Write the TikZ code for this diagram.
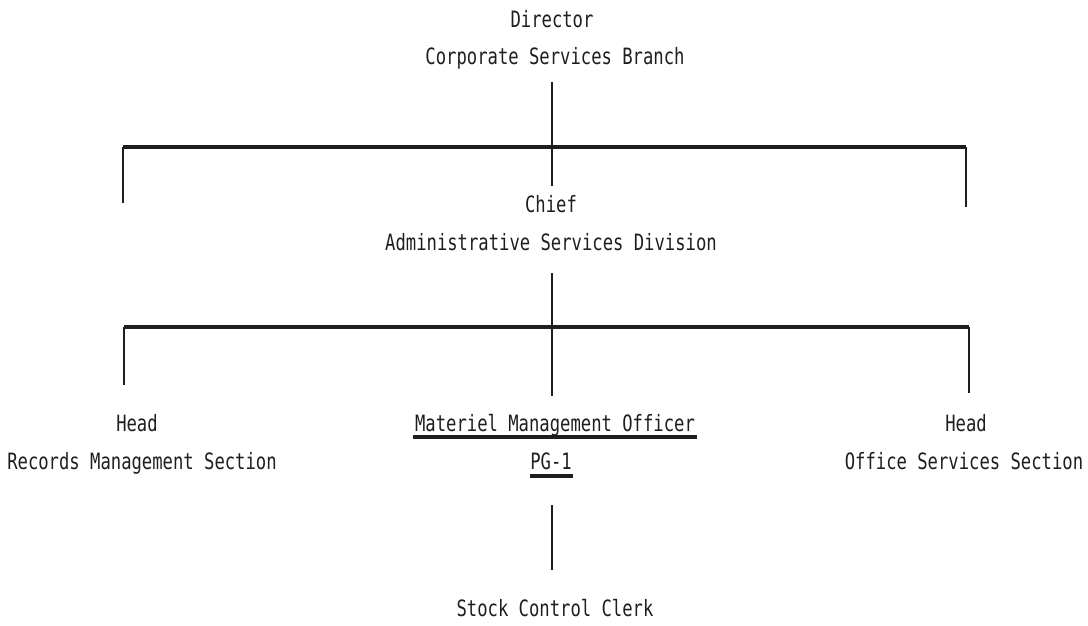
\documentclass[tikz,border=0pt]{standalone}
\usepackage{fontspec}
\newfontfamily\tw[FakeStretch=0.765]{DejaVu Sans Mono}
\definecolor{ink}{HTML}{1E1E1E}
\begin{document}
\begin{tikzpicture}[x=1pt,y=-1pt,
  lbl/.style={font=\tw\fontsize{22.5}{26}\selectfont, text=ink, inner sep=0pt, anchor=base},
  conn/.style={draw=ink, line width=1.8pt},
  bus/.style={draw=ink, line width=3.5pt},
  uline/.style={draw=ink, line width=3.5pt}]
\useasboundingbox (0,0) rectangle (1088,626);
% texts
\node[lbl] (dir) at (552,28) {Director};
\node[lbl] (corp) at (555,65) {Corporate Services Branch};
\node[lbl] (chief) at (551,212) {Chief};
\node[lbl] (adm) at (551,250) {Administrative Services Division};
\node[lbl] (headl) at (137,431) {Head};
\node[lbl] (rec) at (142,469) {Records Management Section};
\node[lbl] (mmo) at (555,431) {Materiel Management Officer};
\node[lbl] (pg) at (551,469) {PG-1};
\node[lbl] (headr) at (966,431) {Head};
\node[lbl] (off) at (964,469) {Office Services Section};
\node[lbl] (clerk) at (555,616) {Stock Control Clerk};
% coordinates
\coordinate (t1) at (552,82);
\coordinate (e1) at (552,186);
\coordinate (b1l) at (123,147);
\coordinate (b1r) at (966,147);
\coordinate (d1l) at (123,203);
\coordinate (d1r) at (966,207);
\coordinate (t2) at (552,273);
\coordinate (e2) at (552,396);
\coordinate (b2l) at (124,327);
\coordinate (b2r) at (969,327);
\coordinate (d2l) at (124,385);
\coordinate (d2r) at (969,393);
\coordinate (t3) at (552,505);
\coordinate (e3) at (552,570);
\coordinate (u1l) at (413,437);
\coordinate (u1r) at (697,437);
\coordinate (u2l) at (530,476);
\coordinate (u2r) at (573,476);
% connectors
\draw[conn] (t1) -- (e1);
\draw[bus] (b1l) -- (b1r);
\draw[conn] (b1l) -- (d1l);
\draw[conn] (b1r) -- (d1r);
\draw[conn] (t2) -- (e2);
\draw[bus] (b2l) -- (b2r);
\draw[conn] (b2l) -- (d2l);
\draw[conn] (b2r) -- (d2r);
\draw[conn] (t3) -- (e3);
% underlines
\draw[uline] (u1l) -- (u1r);
\draw[uline] (u2l) -- (u2r);
\end{tikzpicture}
\end{document}
